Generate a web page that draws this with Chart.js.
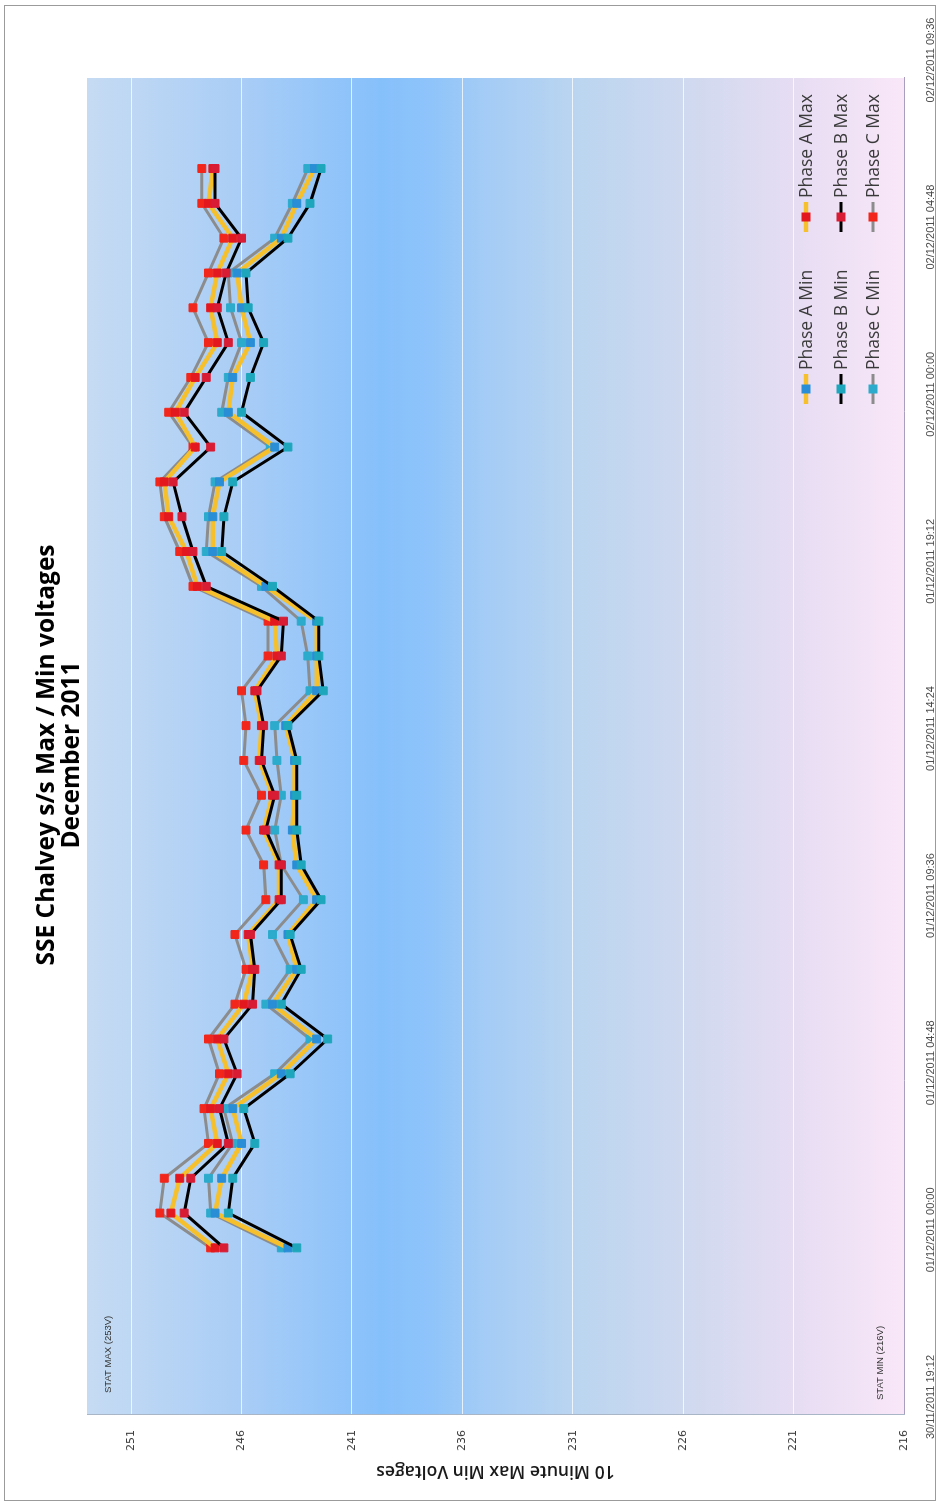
<!DOCTYPE html>
<html>
<head>
<meta charset="utf-8">
<title>SSE Chalvey s/s Max / Min voltages - December 2011</title>
<script src="https://cdn.jsdelivr.net/npm/chart.js@4.4.0/dist/chart.umd.min.js"></script>
<style>
  html, body { margin: 0; padding: 0; background: #fff; width: 940px; height: 1506px; overflow: hidden; }
  /* the sheet is laid out landscape and turned a quarter turn anticlockwise */
  #sheet { position: absolute; left: 0; top: 0; width: 1506px; height: 940px;
           transform-origin: 0 0; transform: translate(0, 1506px) rotate(-90deg); }
  canvas { display: block; }
</style>
</head>
<body>
<div id="sheet"><canvas id="chart" width="1506" height="940"></canvas></div>
<script>
// hourly readings
const readingTimes = [
  '01/12/2011 00:00', '01/12/2011 01:00', '01/12/2011 02:00', '01/12/2011 03:00',
  '01/12/2011 04:00', '01/12/2011 05:00', '01/12/2011 06:00', '01/12/2011 07:00',
  '01/12/2011 08:00', '01/12/2011 09:00', '01/12/2011 10:00', '01/12/2011 11:00',
  '01/12/2011 12:00', '01/12/2011 13:00', '01/12/2011 14:00', '01/12/2011 15:00',
  '01/12/2011 16:00', '01/12/2011 17:00', '01/12/2011 18:00', '01/12/2011 19:00',
  '01/12/2011 20:00', '01/12/2011 21:00', '01/12/2011 22:00', '01/12/2011 23:00',
  '02/12/2011 00:00', '02/12/2011 01:00', '02/12/2011 02:00', '02/12/2011 03:00',
  '02/12/2011 04:00', '02/12/2011 05:00', '02/12/2011 06:00', '02/12/2011 07:00'
];

// 10 minute minimum voltages (V)
const phaseAMin = [243.9, 247.2, 246.9, 246.0, 246.4, 244.2, 242.6, 244.6, 243.5, 243.9, 242.6, 243.5, 243.7, 243.6, 243.6, 244.0,
                   242.6, 242.6, 242.6, 244.9, 247.3, 247.3, 247.0, 244.5, 246.6, 246.4, 245.6, 246.0, 246.2, 244.2, 243.5, 242.7];
const phaseBMin = [243.5, 246.6, 246.4, 245.4, 245.9, 243.8, 242.1, 244.2, 243.3, 243.8, 242.4, 243.3, 243.5, 243.5, 243.5, 243.9,
                   242.3, 242.5, 242.5, 244.6, 246.9, 246.8, 246.4, 243.9, 246.0, 245.6, 245.0, 245.7, 245.8, 243.9, 242.9, 242.4];
const phaseCMin = [244.2, 247.4, 247.5, 246.4, 246.8, 244.5, 242.9, 244.9, 243.8, 244.6, 243.2, 244.2, 244.5, 244.2, 244.4, 244.5,
                   242.9, 243.0, 243.3, 245.1, 247.6, 247.5, 247.2, 244.7, 246.9, 246.6, 246.0, 246.5, 246.6, 244.5, 243.7, 243.0];

// 10 minute maximum voltages (V)
const phaseAMax = [247.2, 249.2, 248.8, 247.1, 247.4, 246.6, 247.1, 245.9, 245.5, 245.7, 244.3, 244.3, 245.0, 244.6, 245.2, 245.1,
                   245.4, 244.4, 244.5, 248.0, 248.5, 249.3, 249.5, 248.1, 249.0, 248.1, 247.1, 247.4, 247.1, 246.4, 247.5, 247.3];
const phaseBMax = [246.8, 248.6, 248.3, 246.6, 247.0, 246.2, 246.8, 245.5, 245.4, 245.6, 244.2, 244.2, 244.9, 244.5, 245.1, 245.0,
                   245.3, 244.2, 244.1, 247.6, 248.2, 248.7, 249.1, 247.4, 248.6, 247.6, 246.6, 247.1, 246.7, 246.0, 247.2, 247.2];
const phaseCMax = [247.4, 249.7, 249.5, 247.5, 247.7, 247.0, 247.5, 246.3, 245.8, 246.3, 244.9, 245.0, 245.8, 245.1, 245.9, 245.8,
                   246.0, 244.8, 244.8, 248.2, 248.8, 249.5, 249.7, 248.2, 249.3, 248.3, 247.5, 248.2, 247.5, 246.8, 247.8, 247.8];

// axis ticks
const dateTicks = ['30/11/2011 19:12', '01/12/2011 00:00', '01/12/2011 04:48', '01/12/2011 09:36', '01/12/2011 14:24',
                   '01/12/2011 19:12', '02/12/2011 00:00', '02/12/2011 04:48', '02/12/2011 09:36'];
const voltTicks = [216, 221, 226, 231, 236, 241, 246, 251];
const statMax = 253;
const statMin = 216;

function minutesOf(s) {
  const [d, t] = s.split(' ');
  const [dd, mm, yy] = d.split('/').map(Number);
  const [hh, mi] = t.split(':').map(Number);
  return Date.UTC(yy, mm - 1, dd, hh, mi) / 60000;
}
const axisStart = minutesOf(dateTicks[0]);
const axisEnd = minutesOf(dateTicks[dateTicks.length - 1]) - axisStart;
const tickStep = minutesOf(dateTicks[1]) - axisStart;
const xs = readingTimes.map(s => minutesOf(s) - axisStart);

const YELLOW = '#f5c02c', BLACK = '#000000', GREY = '#8c8c8c';
const RED = '#e3181f', RED_B = '#d81c34', RED_C = '#f2261a';
const BLUE = '#2a8ed6', TEAL = '#1ea7bc', TEAL_C = '#2cabcc';

function series(label, values, line, width, marker, legendRow, legendCol) {
  return {
    label, legendRow, legendCol,
    data: values.map((v, i) => ({ x: xs[i], y: v })),
    borderColor: line, borderWidth: width, backgroundColor: marker,
    pointStyle: 'rect', pointRadius: 5.6, pointHoverRadius: 5.6,
    pointBackgroundColor: marker, pointBorderColor: marker, pointBorderWidth: 1,
    tension: 0, fill: false
  };
}

// first dataset is drawn on top
const datasets = [
  series('Phase B Max', phaseBMax, BLACK, 3, RED_B, 1, 1),
  series('Phase B Min', phaseBMin, BLACK, 3, TEAL, 1, 0),
  series('Phase A Max', phaseAMax, YELLOW, 4.5, RED, 0, 1),
  series('Phase A Min', phaseAMin, YELLOW, 4.5, BLUE, 0, 0),
  series('Phase C Max', phaseCMax, GREY, 3, RED_C, 2, 1),
  series('Phase C Min', phaseCMin, GREY, 3, TEAL_C, 2, 0)
];

// plot area fill, outer frame, stat limit notes and the in-plot legend
const decorations = {
  id: 'decorations',
  beforeDraw(chart) {
    const { ctx, chartArea: a, width, height } = chart;
    ctx.save();
    ctx.fillStyle = '#ffffff';
    ctx.fillRect(0, 0, width, height);
    const g = ctx.createLinearGradient(0, a.top, 0, a.bottom);
    g.addColorStop(0.00, '#c6dbf3');
    g.addColorStop(0.19, '#a9cdf6');
    g.addColorStop(0.36, '#86c0fb');
    g.addColorStop(0.42, '#8ec4fa');
    g.addColorStop(0.48, '#a2cbf6');
    g.addColorStop(0.60, '#bbd5f0');
    g.addColorStop(0.74, '#d0d9ef');
    g.addColorStop(0.87, '#e7ddf3');
    g.addColorStop(1.00, '#f9e7f8');
    ctx.fillStyle = g;
    ctx.fillRect(a.left, a.top, a.right - a.left, a.bottom - a.top);
    ctx.strokeStyle = '#9b9b9b';
    ctx.lineWidth = 1;
    ctx.strokeRect(5.5, 4.5, width - 11, height - 9);
    ctx.restore();
  },
  afterDatasetsDraw(chart) {
    const { ctx, chartArea: a, scales } = chart;
    ctx.save();
    ctx.fillStyle = '#333333';
    ctx.font = '9.5px "Liberation Sans"';
    ctx.textBaseline = 'middle';
    ctx.textAlign = 'left';
    ctx.fillText('STAT MAX (' + statMax + 'V)', a.left + 22, scales.y.getPixelForValue(statMax) + 21);
    ctx.fillText('STAT MIN (' + statMin + 'V)', a.left + 15, scales.y.getPixelForValue(statMin) - 24);

    const colX = [a.right - 311, a.right - 139];
    const rowY = [a.bottom - 98, a.bottom - 63, a.bottom - 31];
    ctx.font = '17.5px "Open Sans"';
    chart.data.datasets.forEach(ds => {
      const cx = colX[ds.legendCol], cy = rowY[ds.legendRow];
      ctx.strokeStyle = ds.borderColor;
      ctx.lineWidth = ds.borderWidth;
      ctx.beginPath();
      ctx.moveTo(cx - 15, cy);
      ctx.lineTo(cx + 15, cy);
      ctx.stroke();
      ctx.fillStyle = ds.pointBackgroundColor;
      ctx.fillRect(cx - 4.5, cy - 4.5, 9, 9);
      ctx.fillStyle = '#3a3a3a';
      ctx.fillText(ds.label, cx + 19, cy + 1);
    });
    ctx.restore();
  }
};

new Chart(document.getElementById('chart'), {
  type: 'line',
  data: { datasets },
  plugins: [decorations],
  options: {
    responsive: false,
    animation: false,
    devicePixelRatio: 1,
    layout: { padding: { top: 5, right: 4, bottom: 0, left: 0 } },
    plugins: {
      legend: { display: false },
      tooltip: { enabled: false },
      title: {
        display: true,
        text: ['SSE Chalvey s/s Max / Min voltages', 'December 2011'],
        color: '#000000',
        font: { family: 'Open Sans', size: 24.5, weight: 'bold', lineHeight: 1.0 },
        padding: { top: 30, bottom: 3 }
      }
    },
    scales: {
      x: {
        type: 'linear',
        position: 'bottom',
        min: 0,
        max: axisEnd,
        grid: { display: false },
        border: { display: true, color: '#a79fbd', width: 1 },
        ticks: {
          stepSize: tickStep,
          autoSkip: false,
          maxRotation: 0,
          minRotation: 0,
          padding: 12,
          labelOffset: 18,
          color: '#4a4a4a',
          font: { family: 'Liberation Sans', size: 11 },
          callback: v => dateTicks[Math.round(v / tickStep)] ?? ''
        },
        afterFit(scale) { scale.height = 36; }
      },
      y: {
        type: 'linear',
        position: 'left',
        min: statMin,
        max: statMax,
        afterBuildTicks(scale) { scale.ticks = voltTicks.map(v => ({ value: v })); },
        grid: { color: 'rgba(255,255,255,0.75)', lineWidth: 1, drawTicks: false },
        border: { display: true, color: '#a9b6c8', width: 1 },
        ticks: {
          padding: 15,
          color: '#404040',
          font: { family: 'DejaVu Sans', size: 11 }
        },
        title: {
          display: true,
          text: '10 Minute Max Min Voltages',
          color: '#1a1a1a',
          font: { family: 'Open Sans', size: 17.5, weight: '600', lineHeight: 1.2 },
          padding: { top: 25, bottom: 0 }
        },
        afterFit(scale) { scale.width = 91; }
      },
      gutter: {
        type: 'linear',
        position: 'right',
        display: true,
        grid: { display: false },
        border: { display: false },
        ticks: { display: false },
        afterFit(scale) { scale.width = 74; }
      }
    }
  }
});
</script>
</body>
</html>
